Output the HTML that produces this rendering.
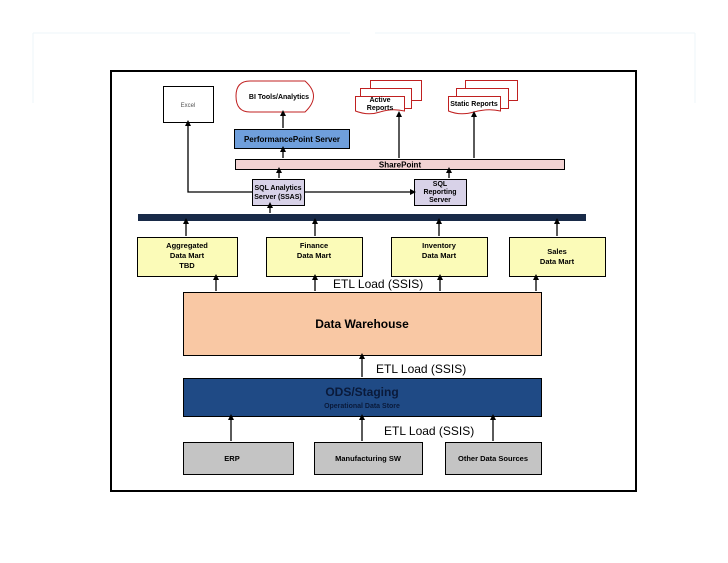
<!DOCTYPE html>
<html><head><meta charset="utf-8"><style>
html,body{margin:0;padding:0;background:#fff;}
svg{display:block;font-family:"Liberation Sans",Arial,sans-serif;}
.b{font-weight:bold;}
</style></head><body>
<svg width="728" height="563" viewBox="0 0 728 563" xmlns="http://www.w3.org/2000/svg">
<defs>
<marker id="a" markerWidth="6" markerHeight="6" refX="3" refY="3" orient="auto" markerUnits="userSpaceOnUse">
<path d="M0,0 L6,3 L0,6 z" fill="#000"/></marker>
</defs>
<!-- faint slide lines -->
<path d="M33,33 H350 M375,33 H695 M33,33 V103 M695,33 V103" stroke="#eef5f8" stroke-width="1" fill="none"/>
<!-- frame -->
<rect x="111" y="71" width="525" height="420" fill="none" stroke="#000" stroke-width="2"/>
<!-- Excel -->
<rect x="163.5" y="86.5" width="50" height="36" fill="#fff" stroke="#000"/>
<text x="188" y="107" font-size="6" text-anchor="middle" fill="#555">Excel</text>
<!-- BI tools -->
<path d="M250,81 H305 Q322,96 305,112 H250 Q236,112 236,96 Q236,81 250,81 z" fill="#fff" stroke="#c02020"/>
<text x="279" y="99" font-size="7" class="b" text-anchor="middle">BI Tools/Analytics</text>
<!-- Active reports -->
<g fill="#fff" stroke="#c02020">
<rect x="370.5" y="80.5" width="51" height="20"/>
<rect x="360.5" y="88.5" width="51" height="20"/>
<path d="M355.5,96.5 H404.5 V111 Q392,108 380,112 Q368,116 355.5,111 z"/>
<rect x="465.5" y="80.5" width="52" height="20"/>
<rect x="456.5" y="88.5" width="52" height="20"/>
<path d="M448.5,96.5 H500.5 V111 Q488,108 474,112 Q460,116 448.5,111 z"/>
</g>
<text x="380" y="102" font-size="7" class="b" text-anchor="middle">Active</text>
<text x="380" y="110" font-size="7" class="b" text-anchor="middle">Reports</text>
<text x="474" y="106" font-size="7" class="b" text-anchor="middle">Static Reports</text>
<!-- PPS -->
<rect x="234.5" y="129.5" width="115" height="19" fill="#6f9fdc" stroke="#000"/>
<text x="292" y="142" font-size="8" class="b" text-anchor="middle">PerformancePoint Server</text>
<!-- SharePoint -->
<rect x="235.5" y="159.5" width="329" height="10" fill="#f2d2d2" stroke="#000"/>
<text x="400" y="167.5" font-size="8" class="b" text-anchor="middle">SharePoint</text>
<!-- SSAS -->
<rect x="252.5" y="179.5" width="52" height="26" fill="#d8d2e8" stroke="#000"/>
<text x="278" y="190" font-size="7" class="b" text-anchor="middle">SQL Analytics</text>
<text x="278" y="199" font-size="7" class="b" text-anchor="middle">Server (SSAS)</text>
<!-- SQLRS -->
<rect x="414.5" y="179.5" width="52" height="26" fill="#d8d2e8" stroke="#000"/>
<text x="440" y="186" font-size="7" class="b" text-anchor="middle">SQL</text>
<text x="440" y="194" font-size="7" class="b" text-anchor="middle">Reporting</text>
<text x="440" y="202" font-size="7" class="b" text-anchor="middle">Server</text>
<!-- bar -->
<rect x="138" y="214" width="448" height="7" fill="#182a48"/>
<!-- marts -->
<g fill="#fbfbb8" stroke="#000">
<rect x="137.5" y="237.5" width="100" height="39"/>
<rect x="266.5" y="237.5" width="96" height="39"/>
<rect x="391.5" y="237.5" width="96" height="39"/>
<rect x="509.5" y="237.5" width="96" height="39"/>
</g>
<g font-size="7.5" class="b" text-anchor="middle">
<text x="187" y="248">Aggregated</text><text x="187" y="258">Data Mart</text><text x="187" y="268">TBD</text>
<text x="314" y="248">Finance</text><text x="314" y="258">Data Mart</text>
<text x="439" y="248">Inventory</text><text x="439" y="258">Data Mart</text>
<text x="557" y="254">Sales</text><text x="557" y="264">Data Mart</text>
</g>
<!-- DW -->
<rect x="183.5" y="292.5" width="358" height="63" fill="#f9c8a4" stroke="#000"/>
<text x="362" y="328" font-size="12" class="b" text-anchor="middle">Data Warehouse</text>
<text x="333" y="288" font-size="12">ETL Load (SSIS)</text>
<!-- ODS -->
<rect x="183.5" y="378.5" width="358" height="38" fill="#1f4a85" stroke="#000"/>
<text x="362" y="396" font-size="12" class="b" text-anchor="middle" fill="#0a1a3a">ODS/Staging</text>
<text x="362" y="408" font-size="7" class="b" text-anchor="middle" fill="#0a1a3a">Operational Data Store</text>
<text x="376" y="373" font-size="12">ETL Load (SSIS)</text>
<!-- sources -->
<g fill="#c4c4c4" stroke="#000">
<rect x="183.5" y="442.5" width="110" height="32"/>
<rect x="314.5" y="442.5" width="108" height="32"/>
<rect x="445.5" y="442.5" width="96" height="32"/>
</g>
<g font-size="7.5" class="b" text-anchor="middle">
<text x="232" y="461">ERP</text><text x="368" y="461">Manufacturing SW</text><text x="493" y="461">Other Data Sources</text>
</g>
<text x="384" y="435" font-size="12">ETL Load (SSIS)</text>
<!-- connectors -->
<g stroke="#000" stroke-width="1.3" fill="none" marker-end="url(#a)">
<path d="M283,128 V113"/>
<path d="M283,158 V149"/>
<path d="M399,158 V114"/>
<path d="M474,158 V114"/>
<path d="M279,178 V170"/>
<path d="M449,178 V170"/>
<path d="M270,213 V205"/>
<path d="M252,192 H188 V123"/>
<path d="M304,192 H413"/>
<path d="M186,236 V221"/>
<path d="M315,236 V221"/>
<path d="M439,236 V221"/>
<path d="M557,236 V221"/>
<path d="M216,291 V277"/>
<path d="M315,291 V277"/>
<path d="M440,291 V277"/>
<path d="M536,291 V277"/>
<path d="M362,377 V356"/>
<path d="M231,441 V417"/>
<path d="M362,441 V417"/>
<path d="M493,441 V417"/>
</g>
</svg>
</body></html>
